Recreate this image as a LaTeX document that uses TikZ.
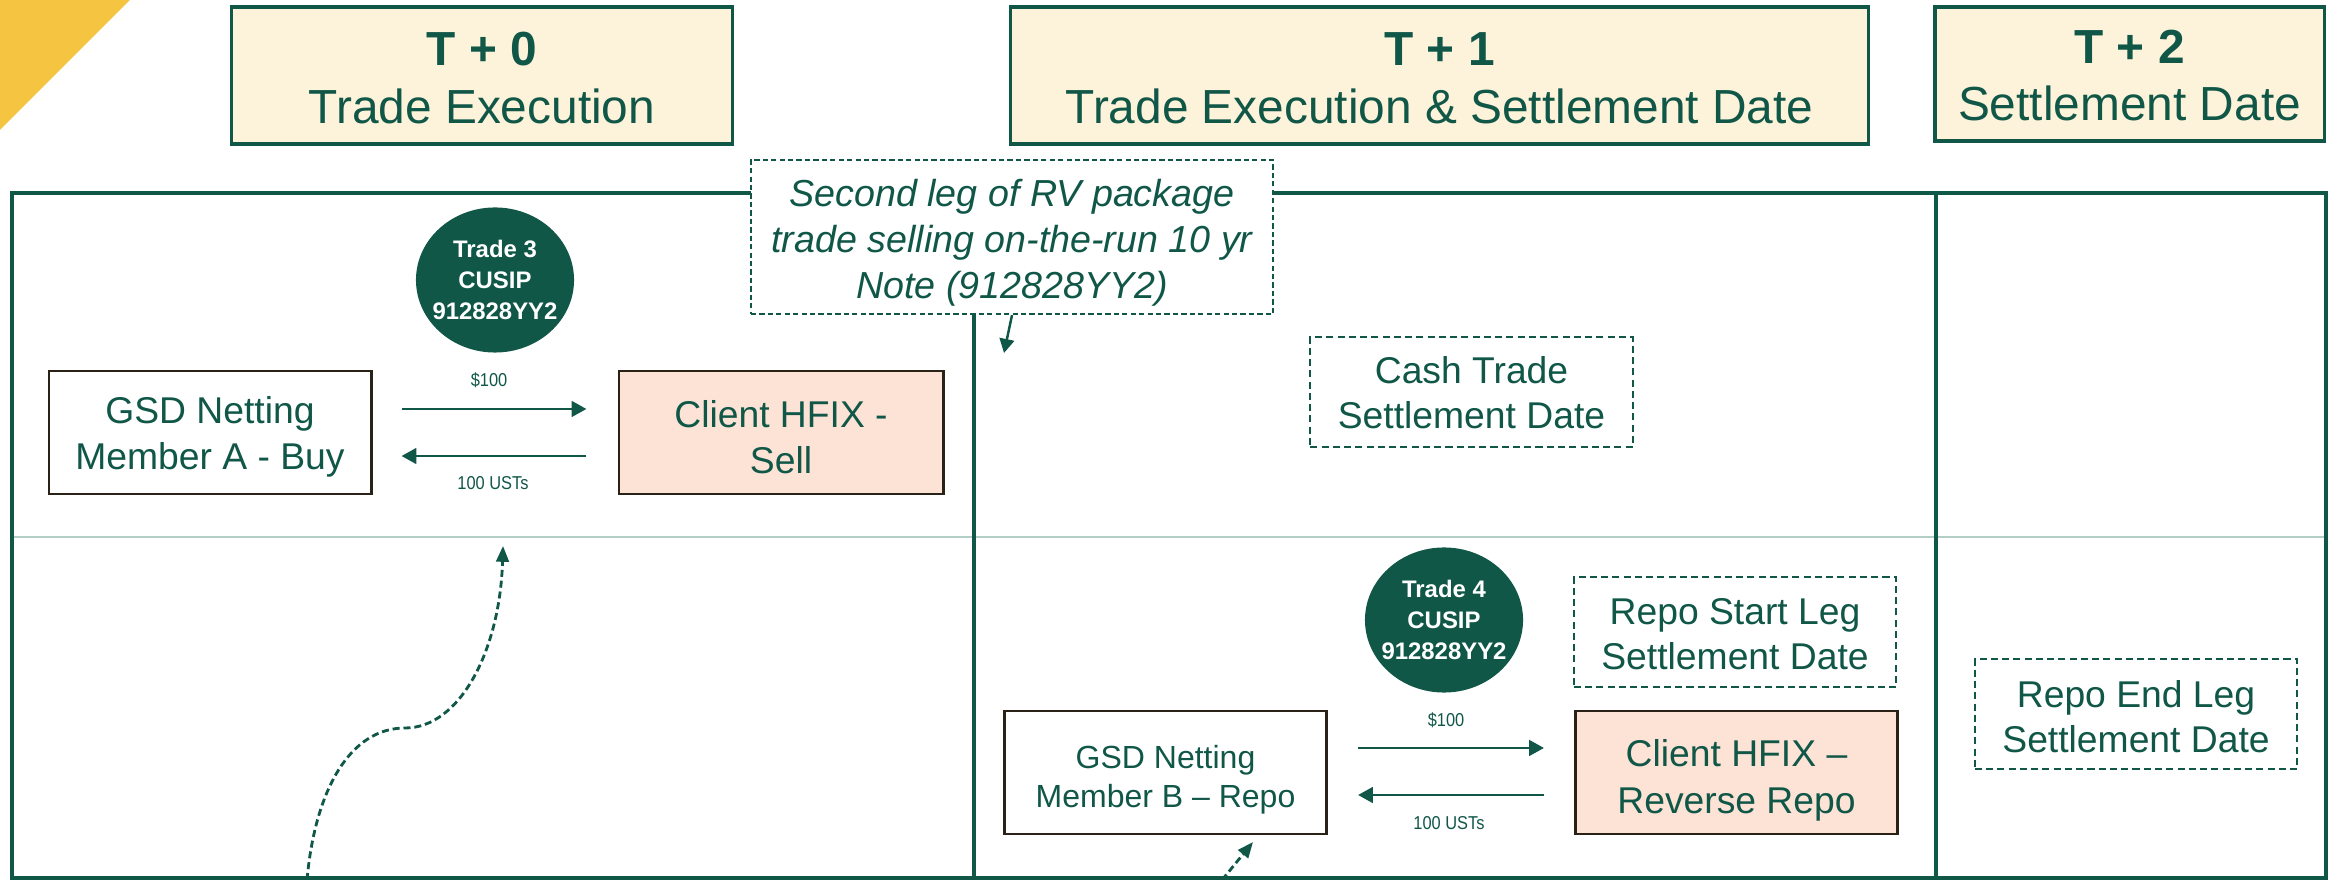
\documentclass[tikz,border=0pt]{standalone}
\usepackage{fontspec}
\setmainfont{Liberation Sans}
\usetikzlibrary{arrows.meta,shapes.geometric}
\definecolor{dgreen}{RGB}{16,87,72}
\definecolor{cream}{RGB}{253,242,218}
\definecolor{salmon}{RGB}{253,226,214}
\definecolor{edgebrown}{RGB}{42,34,22}
\definecolor{gold}{RGB}{245,197,66}
\definecolor{rulegrey}{RGB}{178,206,198}

\begin{document}
\begin{tikzpicture}[x=0.01cm,y=-0.01cm,
  hdr/.style={draw=dgreen, line width=0.9pt, fill=cream, inner sep=0pt},
  hdrtext/.style={text=dgreen, align=center, inner sep=0pt, font=\fontsize{13.6}{16.4}\selectfont},
  party/.style={draw=edgebrown, line width=0.8pt, inner sep=0pt,
    minimum width=3.22cm, minimum height=1.23cm},
  partytext/.style={text=dgreen, align=center, inner sep=0pt, font=\fontsize{10.6}{13}\selectfont},
  note/.style={draw=dgreen, dash pattern=on 2pt off 1.2pt, line width=0.6pt, fill=white,
    inner sep=0pt, minimum width=3.22cm, minimum height=1.10cm},
  notetext/.style={text=dgreen, align=center, inner sep=0pt, font=\fontsize{10.6}{12.7}\selectfont},
  trade/.style={ellipse, fill=dgreen, inner sep=0pt, minimum width=1.58cm, minimum height=1.45cm},
  tradetext/.style={text=white, align=center, inner sep=0pt, font=\bfseries\fontsize{6.8}{8.7}\selectfont},
  flowlabel/.style={text=dgreen, inner sep=0pt, font=\fontsize{5.3}{6}\selectfont},
  frame/.style={draw=dgreen, line width=1pt},
  flow/.style={draw=dgreen, line width=0.8pt, -{Triangle[length=4.2pt,width=4.4pt]}},
  hint/.style={draw=dgreen, line width=0.8pt, dash pattern=on 2pt off 1.1pt,
    -{Triangle[length=4.5pt,width=3.6pt]}}
]
\useasboundingbox (0,0) rectangle (2328,880);

% corner accent
\fill[gold] (0,0) -- (130,0) -- (0,130) -- cycle;

% day headers
\node[hdr, minimum width=5.00cm, minimum height=1.37cm] (h0) at (482,75.5) {};
\node[hdrtext] (h0txt) at (482,78) {\textbf{T + 0}\\Trade Execution};
\node[hdr, minimum width=8.57cm, minimum height=1.37cm] (h1) at (1439.5,75.5) {};
\node[hdrtext] (h1txt) at (1439.5,78) {\textbf{T + 1}\\Trade Execution \& Settlement Date};
\node[hdr, minimum width=3.89cm, minimum height=1.34cm] (h2) at (2129.5,74) {};
\node[hdrtext] (h2txt) at (2129.5,75.5) {\textbf{T + 2}\\Settlement Date};

% timeline grid
\draw[rulegrey, line width=0.5pt] (12,537) -- (2326,537);
\draw[frame] (12,193) rectangle (2326,878);
\draw[frame] (974,193) -- (974,878);
\draw[frame] (1936,193) -- (1936,878);

% note on the second leg
\node[note, dash pattern=on 1.5pt off 0.9pt, minimum width=5.22cm, minimum height=1.54cm]
  (secleg) at (1012,237) {};
\node[notetext, font=\itshape\fontsize{10.7}{13.1}\selectfont] (seclegtxt) at (1012,243)
  {Second leg of RV package\\trade selling on-the-run 10 yr\\Note (912828YY2)};
\coordinate (seclegend) at (1004,353);
\draw[draw=dgreen, line width=0.7pt, -{Triangle[length=4pt,width=4.2pt]}] (secleg.south) -- (seclegend);

% trade 3
\node[trade] (t3) at (495,280) {};
\node[tradetext] (t3txt) at (t3) {Trade 3\\CUSIP\\912828YY2};
\node[party] (gsdA) at (210,432.5) {};
\node[partytext] (gsdAtxt) at (210,437) {GSD Netting\\Member A - Buy};
\node[party, fill=salmon, minimum width=3.24cm] (sellA) at (781,432.5) {};
\node[partytext] (sellAtxt) at (781,437) {Client HFIX -\\Sell};
\draw[flow, shorten <=0.29cm, shorten >=0.31cm] ([yshift=0.235cm]gsdA.east) -- ([yshift=0.235cm]sellA.west);
\draw[flow, shorten <=0.31cm, shorten >=0.29cm] ([yshift=-0.235cm]sellA.west) -- ([yshift=-0.235cm]gsdA.east);
\node[flowlabel] (usdA) at (489,380) {\scalebox{0.88}[1]{\$100}};
\node[flowlabel] (ustA) at (493,483) {\scalebox{0.88}[1]{100 USTs}};

% cash trade settlement
\node[note] (cash) at (1471.5,392) {};
\node[notetext] (cashtxt) at (1471.5,393) {Cash Trade\\Settlement Date};

% trade 4
\node[trade] (t4) at (1444,620) {};
\node[tradetext] (t4txt) at (t4) {Trade 4\\CUSIP\\912828YY2};
\node[note] (repostart) at (1735,632) {};
\node[notetext] (repostarttxt) at (1735,634) {Repo Start Leg\\Settlement Date};
\node[party] (gsdB) at (1165.5,772.5) {};
\node[partytext, font=\fontsize{9.1}{11}\selectfont] (gsdBtxt) at (1165.5,779.5)
  {GSD Netting\\Member B -- Repo};
\node[party, fill=salmon] (rrepo) at (1736.5,772.5) {};
\node[partytext, font=\fontsize{10.6}{13.4}\selectfont] (rrepotxt) at (1736.5,780.5)
  {Client HFIX --\\Reverse Repo};
\draw[flow, shorten <=0.30cm, shorten >=0.30cm] ([yshift=0.245cm]gsdB.east) -- ([yshift=0.245cm]rrepo.west);
\draw[flow, shorten <=0.30cm, shorten >=0.30cm] ([yshift=-0.225cm]rrepo.west) -- ([yshift=-0.225cm]gsdB.east);
\node[flowlabel] (usdB) at (1446,720) {\scalebox{0.88}[1]{\$100}};
\node[flowlabel] (ustB) at (1449,823) {\scalebox{0.88}[1]{100 USTs}};

% repo end leg
\node[note] (repoend) at (2136,714) {};
\node[notetext] (repoendtxt) at (2136,717) {Repo End Leg\\Settlement Date};

% links from below
\coordinate (linkAfrom) at (307,880);
\coordinate (linkAto) at (503,546);
\draw[hint] (linkAfrom) .. controls (315,790) and (350,728) .. (405,728)
  .. controls (460,728) and (500,650) .. (linkAto);
\coordinate (linkBfrom) at (1222,880);
\coordinate (linkBto) at (1253,842);
\draw[hint] (linkBfrom) -- (linkBto);
\end{tikzpicture}
\end{document}
